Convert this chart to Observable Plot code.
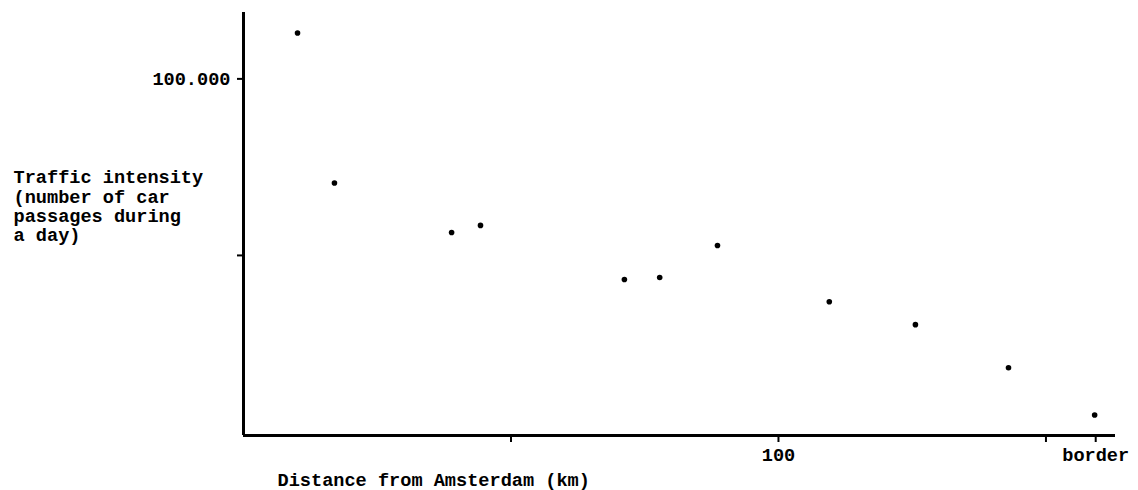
<!DOCTYPE html>
<html>
<head>
<meta charset="utf-8">
<script src="https://cdn.jsdelivr.net/npm/d3@7"></script>
<script src="https://cdn.jsdelivr.net/npm/@observablehq/plot@0.6"></script>
<style>
  html, body { margin: 0; padding: 0; background: #fff; }
  #chart svg { display: block; }
</style>
</head>
<body>
<div id="chart"></div>
<script>
// Distance from Amsterdam (km) and traffic intensity (car passages per day)
const distanceKm = [10.1, 17.0, 38.9, 44.3, 71.2, 77.8, 88.6, 109.5, 125.6, 143.0, 159.1];
const intensity  = [113000, 70500, 56500, 58500, 43200, 43750, 52800, 36900, 30400, 18200, 4800];

const xTicks = [50, 100, 150, 159.3];
const xTickLabels = ["", "100", "", "border"];
const yTicks = [50000, 100000];
const yTickLabels = ["", "100.000"];

const yTitle = "Traffic intensity\n(number of car\npassages during\na day)";
const xTitle = "Distance from Amsterdam (km)";

const data = distanceKm.map((d, i) => ({distance: d, traffic: intensity[i]}));

const font = "Liberation Mono, DejaVu Sans Mono, monospace";
const fs = 18.6;
const xMin = 0, xMax = 163, yMin = -1000, yMax = 118800;

const chart = Plot.plot({
  width: 1138,
  height: 490,
  marginLeft: 243,
  marginRight: 23,
  marginTop: 12,
  marginBottom: 55,
  x: {domain: [xMin, xMax]},
  y: {domain: [yMin, yMax]},
  style: {fontFamily: font, background: "#fff", color: "#000"},
  marks: [
    Plot.axisY({
      ticks: yTicks, tickSize: 6, tickPadding: 7, anchor: "left",
      tickFormat: d => yTickLabels[yTicks.indexOf(d)],
      fontSize: fs, fontWeight: "bold", fontFamily: font,
      stroke: "#000", strokeWidth: 2, label: null
    }),
    Plot.axisX({
      ticks: xTicks, tickSize: 7, tickPadding: 5, anchor: "bottom",
      tickFormat: d => xTickLabels[xTicks.indexOf(d)],
      fontSize: fs, fontWeight: "bold", fontFamily: font,
      stroke: "#000", strokeWidth: 2, label: null,
      textAnchor: "middle"
    }),
    Plot.ruleX([xMin], {y1: yMin, y2: yMax, stroke: "#000", strokeWidth: 3}),
    Plot.ruleY([yMin], {x1: xMin, x2: xMax, stroke: "#000", strokeWidth: 3}),
    Plot.dot(data, {x: "distance", y: "traffic", r: 2.8, fill: "#000", stroke: "none"}),
    Plot.text([yTitle], {
      frameAnchor: "left", textAnchor: "start", dx: -230, dy: -18,
      lineHeight: 1.03, fontSize: fs, fontWeight: "bold", fontFamily: font, fill: "#000"
    }),
    Plot.text([xTitle], {
      frameAnchor: "bottom-left", textAnchor: "start", dx: 34, dy: 50,
      fontSize: fs, fontWeight: "bold", fontFamily: font, fill: "#000"
    })
  ]
});
document.getElementById("chart").appendChild(chart);
</script>
</body>
</html>
